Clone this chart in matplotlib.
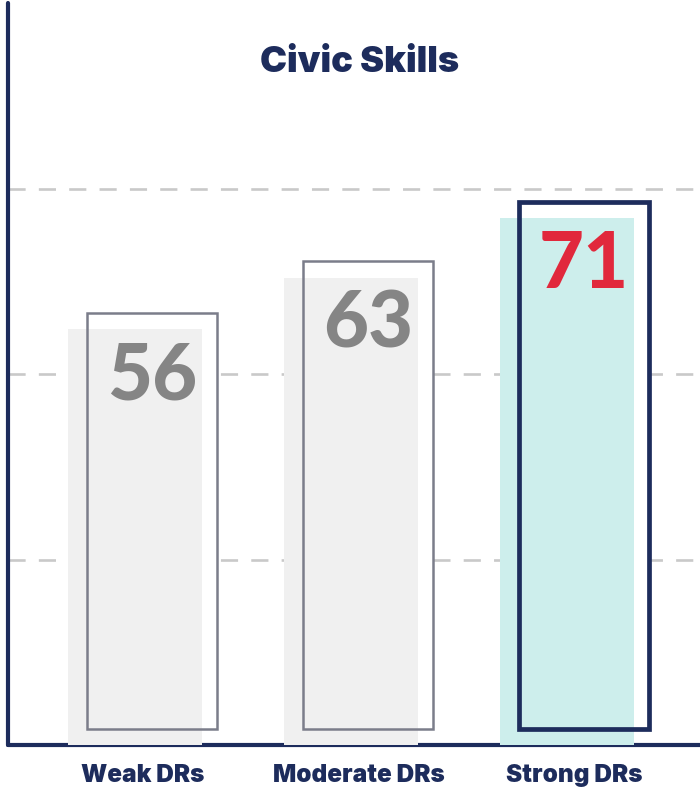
import matplotlib
matplotlib.use("Agg")
from matplotlib import pyplot as plt
import numpy as np

categories = ["Weak DRs", "Moderate DRs", "Strong DRs"]
values = [56, 63, 71]
title = "Civic Skills"
grid_levels = [25, 50, 75]

navy = "#1d2c5c"
fill_colors = ["#f0f0f0", "#f0f0f0", "#cdeeec"]
edge_colors = ["#7b7d8a", "#7b7d8a", navy]
edge_widths = [1.8, 1.8, 3.4]
number_colors = ["#858585", "#858585", "#e1283c"]

plt.rcParams['font.family'] = ['Lato', 'DejaVu Sans']
text_font = ['Inter', 'Lato', 'DejaVu Sans']

fig = plt.figure(figsize=(7, 7.93), dpi=100)
ax = fig.add_axes([8 / 700, 48 / 793, 692 / 700, 742 / 793])

x = np.arange(len(categories))
fill_x = x - 0.035
box_x = x + 0.044
lift = 2.2

for y in grid_levels:
    ax.axhline(y, color="#c9c9c9", lw=1.9, linestyle=(0, (6.5, 5.0)), zorder=1)

# white face behind outline hides the grid
ax.bar(box_x, values, bottom=lift, width=0.60, color="white", zorder=2)
ax.bar(fill_x, values, width=0.62, color=fill_colors, zorder=3)
ax.bar(box_x, values, bottom=lift, width=0.60, fill=False,
       edgecolor=edge_colors, linewidth=edge_widths, zorder=4)

for xi, v, c in zip(box_x, values, number_colors):
    ax.text(xi, v - 9.4, str(v), ha="center", va="baseline", fontsize=56,
            fontweight="black", color=c, zorder=5)

ax.text(1.005, 92.0, title, ha="center", va="center", fontsize=26,
        fontweight="black", color=navy, family=text_font)

ax.set_xlim(-0.623, 2.581)
ax.set_ylim(0, 100)
ax.set_yticks([])
ax.set_xticks(x, categories)
ax.tick_params(axis="x", length=0, pad=14, labelsize=17.5, labelcolor=navy)
for lab in ax.get_xticklabels():
    lab.set_fontweight("black")
    lab.set_family(text_font)

for side in ["top", "right"]:
    ax.spines[side].set_visible(False)
for side in ["left", "bottom"]:
    ax.spines[side].set_color(navy)
    ax.spines[side].set_linewidth(3.0)
    ax.spines[side].set_capstyle("round")

fig.savefig("out.png", dpi=100)
